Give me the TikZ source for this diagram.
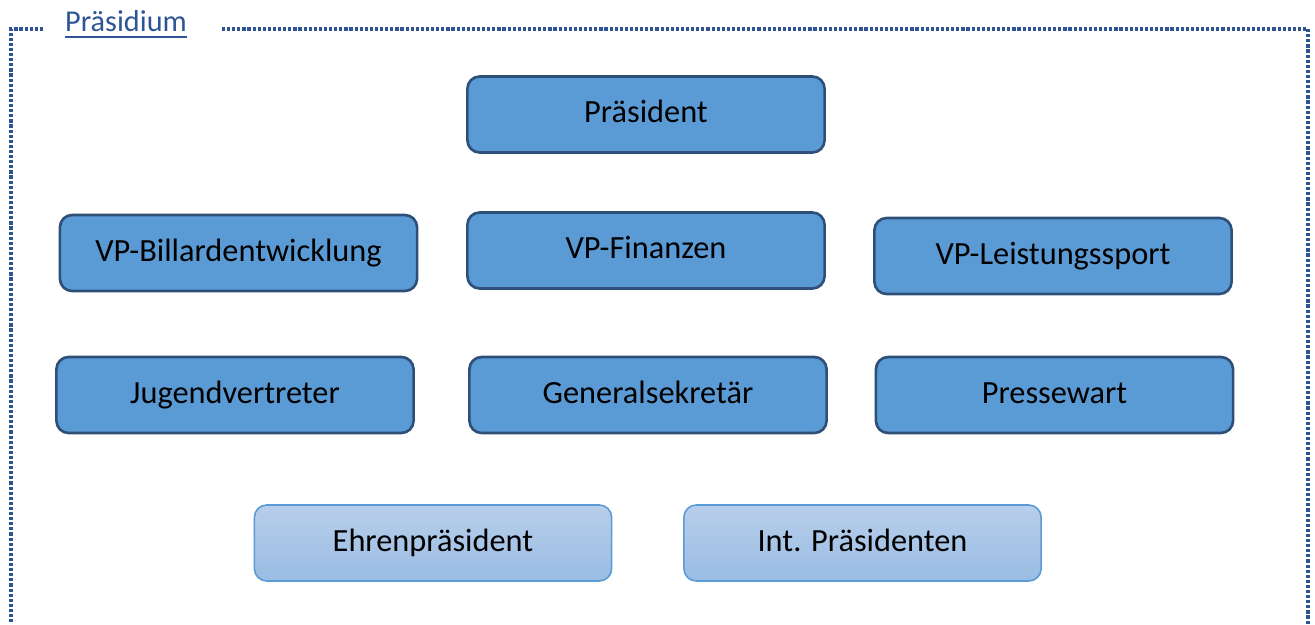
\documentclass[tikz,border=0pt]{standalone}
\usepackage{fontspec}
\setmainfont{Carlito}
\definecolor{boxblue}{RGB}{91, 155, 213}
\definecolor{boxline}{RGB}{46, 80, 120}
\definecolor{lighttop}{RGB}{184, 207, 235}
\definecolor{lightbot}{RGB}{153, 188, 227}
\definecolor{framblue}{RGB}{47, 84, 150}
\usetikzlibrary{positioning}

\begin{document}
\begin{tikzpicture}[x=0.01cm, y=-0.01cm,
    member/.style={draw=boxline, fill=boxblue, line width=0.75pt, rounded corners=3.5pt,
      minimum width=3.57cm, minimum height=0.76cm, text height=0.7em, text depth=0.22em,
      font=\fontsize{9.2}{11}\selectfont},
    honor/.style={member, draw=boxblue, top color=lighttop, bottom color=lightbot, line width=0.45pt},
    framline/.style={framblue, line width=1pt, dash pattern=on 0.9pt off 0.55pt}]
  \useasboundingbox (0,0) rectangle (1315,624);

  % Frame with title
  \node[font=\fontsize{8.6}{10}\selectfont, text=framblue] (title) at (126, 25) {\underline{Präsidium}};
  \draw[framline] (43, 29) -- (11, 29) -- (11, 624);
  \draw[framline] (222, 29) -- (1308, 29) -- (1308, 624);

  % First row
  \node[member] (praes) at (646, 114.5) {Präsident};

  % Vice presidents
  \node[member] (vpbill) at (238.5, 253) {VP-Billardentwicklung};
  \node[member] (vpfin) at (646, 250.5) {VP-Finanzen};
  \node[member] (vpleist) at (1053, 256) {VP-Leistungssport};

  % Third row
  \node[member] (jugend) at (235, 395) {Jugendvertreter};
  \node[member] (gensek) at (648, 395) {Generalsekretär};
  \node[member] (presse) at (1054.5, 395) {Pressewart};

  % Honorary members
  \node[honor] (ehren) at (433, 543) {Ehrenpräsident};
  \node[honor] (intpraes) at (862.5, 543) {Int. Präsidenten};
\end{tikzpicture}
\end{document}
